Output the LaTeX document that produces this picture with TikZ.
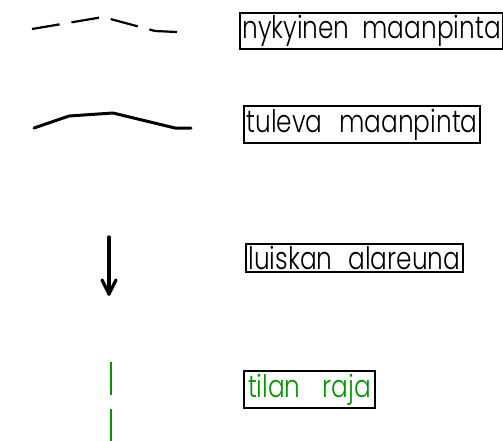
\documentclass[tikz,border=0pt]{standalone}
\usepackage{fontspec}
\setmainfont{Poppins}[UprightFont=* Light, FakeStretch=0.8]
\definecolor{cadgreen}{RGB}{0,150,0}
\newcommand{\wgap}[1]{\hspace{#1pt}}
\begin{document}
\begin{tikzpicture}[x=1pt,y=-1pt,
  legendbox/.style={draw=black,line width=2pt,inner sep=2.5pt,anchor=west,
    font=\fontsize{31}{31}\selectfont},
  surfline/.style={line width=3pt,line join=round,line cap=round},
  dashsurf/.style={line width=2.2pt,line join=round,dash pattern=on 28pt off 12pt},
  borderline/.style={draw=cadgreen,line width=1.7pt,dash pattern=on 33pt off 14pt},
  arrowstroke/.style={line width=3.2pt,line cap=round,line join=round}]
\useasboundingbox (0,0) rectangle (503,440);

% labels
\node[legendbox] (t1) at (239,31) {nykyinen\wgap{13}maanpinta};
\node[legendbox] (t2) at (243,124.5) {tuleva\wgap{17}maanpinta};
\node[legendbox] (t3) at (245,258) {luiskan\wgap{16}alareuna};
\node[legendbox,text=cadgreen,inner xsep=4pt] (t4) at (243,389.5) {tilan\wgap{22}raja};

% existing ground (dashed)
\coordinate (d1) at (32,29);
\coordinate (d2) at (103,17);
\coordinate (d3) at (155,31);
\coordinate (d4) at (177,32);
\draw[dashsurf] (d1) -- (d2) -- (d3) -- (d4);

% future ground (solid)
\coordinate (s1) at (34,128);
\coordinate (s2) at (69,116);
\coordinate (s3) at (113,113);
\coordinate (s4) at (175,128);
\coordinate (s5) at (191,128);
\draw[surfline] (s1) -- (s2) -- (s3) -- (s4) -- (s5);

% slope toe arrow
\coordinate (a0) at (109,237);
\coordinate (a1) at (109,294);
\coordinate (al) at (102,280);
\coordinate (ar) at (116,280);
\draw[arrowstroke] (a0) -- (a1);
\draw[arrowstroke] (al) -- (a1) -- (ar);

% property border
\coordinate (g0) at (111,362);
\coordinate (g1) at (111,450);
\draw[borderline] (g0) -- (g1);
\end{tikzpicture}
\end{document}
